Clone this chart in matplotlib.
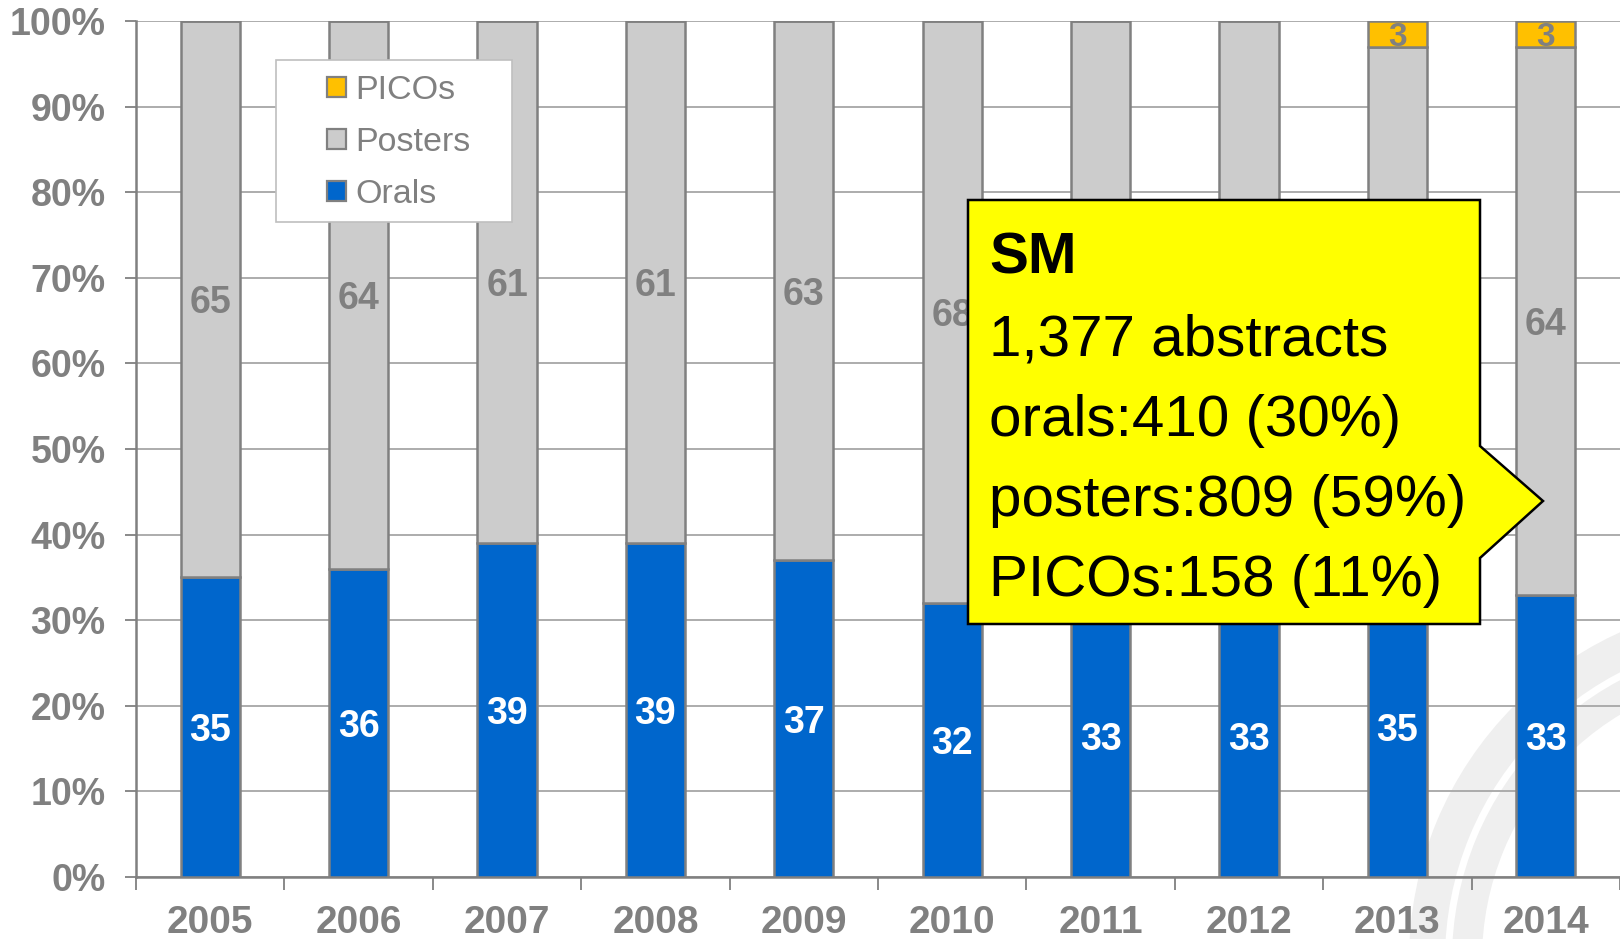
import numpy as np
import matplotlib
matplotlib.use("Agg")
import matplotlib.pyplot as plt
from matplotlib.patches import Polygon, Rectangle, Wedge, Patch
from matplotlib.ticker import FuncFormatter, FixedLocator

plt.rcParams['font.family'] = ['Liberation Sans', 'DejaVu Sans']

# data (share of abstracts, %)
years = ['2005', '2006', '2007', '2008', '2009', '2010', '2011', '2012', '2013', '2014']
orals = [35, 36, 39, 39, 37, 32, 33, 33, 35, 33]
posters = [65, 64, 61, 61, 63, 68, 67, 67, 62, 64]
picos = [0, 0, 0, 0, 0, 0, 0, 0, 3, 3]

callout_title = 'SM'
callout_lines = ['1,377 abstracts', 'orals:410 (30%)', 'posters:809 (59%)', 'PICOs:158 (11%)']

blue = '#0066CC'
grey_bar = '#CCCCCC'
orange = '#FFC000'
edge = '#808080'
txt_grey = '#808080'

W, H = 1620, 939
fig = plt.figure(figsize=(W / 100, H / 100), dpi=100)

# faint logo watermark in the lower right corner (behind everything)
for r, w in [(3.60, 0.36), (3.17, 0.30)]:
    fig.patches.append(Wedge((17.69, -0.21), r, 0, 360, width=w, facecolor='#EFEFEF',
                             edgecolor='none', transform=fig.dpi_scale_trans, zorder=-5))

ax = fig.add_axes([136 / W, (H - 877) / H, (W - 136) / W, (877 - 21) / H])
ax.set_facecolor('none')

x = np.arange(len(years))
bw = 0.4
kw = dict(width=bw, edgecolor=edge, linewidth=1.8, zorder=3)
ax.bar(x, orals, color=blue, **kw)
ax.bar(x, posters, bottom=orals, color=grey_bar, **kw)
top = np.array(orals) + np.array(posters)
ax.bar(x, picos, bottom=top, color=orange, **kw)

# yellow callout box (figure pixels from top-left)
pts = [(968, 200), (1480, 200), (1480, 446), (1543, 501), (1480, 558), (1480, 624), (968, 624)]


def hidden(xd, yd):
    # label centre lies under the callout box -> not visible anyway
    px, py = ax.transData.transform((xd, yd))
    py = H - py
    return 968 < px < 1480 and 200 < py < 624


fig.canvas.draw()

# value labels
for i in range(len(years)):
    ax.text(x[i], orals[i] / 2, str(orals[i]), ha='center', va='center_baseline',
            color='white', fontsize=27, fontweight='bold', zorder=4)
    yp = orals[i] + posters[i] / 2
    if not hidden(x[i], yp):
        ax.text(x[i], yp, str(posters[i]), ha='center', va='center_baseline',
                color=txt_grey, fontsize=27, fontweight='bold', zorder=4)
    if picos[i] > 0:
        ax.text(x[i], top[i] + picos[i] / 2, str(picos[i]), ha='center', va='center_baseline',
                color=txt_grey, fontsize=24, fontweight='bold', zorder=4)

ax.set_xlim(-0.5, len(years) - 0.5)
ax.set_ylim(0, 100)
ax.set_yticks(np.arange(0, 101, 10))
ax.yaxis.set_major_formatter(FuncFormatter(lambda v, p: '%d%%' % v))
ax.set_xticks(x)
ax.set_xticklabels(years)
ax.xaxis.set_minor_locator(FixedLocator(np.arange(-0.5, len(years), 1.0)))

ax.grid(axis='y', color='#A6A6A6', linewidth=1.3, zorder=0)
ax.set_axisbelow(True)
for s in ['top', 'right']:
    ax.spines[s].set_visible(False)
for s in ['left', 'bottom']:
    ax.spines[s].set_color(edge)
    ax.spines[s].set_linewidth(1.8)

ax.tick_params(axis='y', length=8, width=1.3, color=edge, pad=14,
               labelsize=27, labelcolor=txt_grey)
ax.tick_params(axis='x', which='major', length=0, pad=20, labelsize=28, labelcolor=txt_grey)
ax.tick_params(axis='x', which='minor', length=9, width=1.3, color=edge)
for lab in ax.get_xticklabels() + ax.get_yticklabels():
    lab.set_fontweight('bold')

# legend
ax.add_patch(Rectangle((276 / W, 1 - 222 / H), (512 - 276) / W, (222 - 60) / H,
                       transform=fig.transFigure, facecolor='white', edgecolor='#BFBFBF',
                       linewidth=1.2, zorder=5))
handles = [Patch(facecolor=orange, edgecolor=edge, linewidth=1.6),
           Patch(facecolor=grey_bar, edgecolor=edge, linewidth=1.6),
           Patch(facecolor=blue, edgecolor=edge, linewidth=1.6)]
leg = ax.legend(handles, ['PICOs', 'Posters', 'Orals'], loc='upper left',
                bbox_to_anchor=(320 / W, 1 - 68 / H), bbox_transform=fig.transFigure,
                frameon=False, fontsize=24.5, labelcolor=txt_grey, handlelength=0.55,
                handleheight=0.55, handletextpad=0.3, labelspacing=0.62,
                borderaxespad=0, borderpad=0.2)
leg.set_zorder(6)

ax.add_patch(Polygon([(px / W, 1 - py / H) for px, py in pts], closed=True,
                     transform=fig.transFigure, facecolor='#FFFF00', edgecolor='black',
                     linewidth=1.8, zorder=7, clip_on=False))
fig.text(989 / W, 1 - 274 / H, callout_title, fontsize=42, fontweight='bold',
         va='baseline', color='black', zorder=8)
for k, line in enumerate(callout_lines):
    fig.text(989 / W, 1 - (355 + 80.5 * k) / H, line, fontsize=42,
             va='baseline', color='black', zorder=8)

fig.savefig('out.png', dpi=100)
